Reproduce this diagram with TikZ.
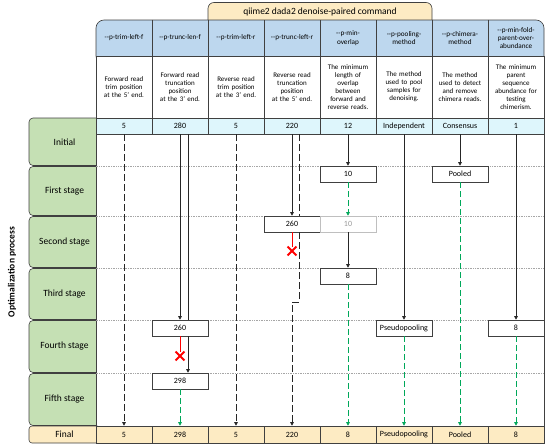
\documentclass[tikz,border=0pt]{standalone}
\usepackage{fontspec}
\setmainfont{Carlito}
\usetikzlibrary{shapes.misc,arrows.meta,positioning}

\definecolor{hdrblue}{RGB}{189,215,238}
\definecolor{valcyan}{RGB}{222,246,252}
\definecolor{stagegreen}{RGB}{197,224,180}
\definecolor{finbeige}{RGB}{253,235,195}
\definecolor{arrgreen}{RGB}{0,168,90}

\begin{document}
\begin{tikzpicture}[
    x=1pt, y=-1pt,
    every node/.style={inner sep=0pt},
    cellline/.style={draw=black!75, line width=0.6pt},
    tabbox/.style={cellline, fill=finbeige, rounded corners=6pt, minimum width=224pt, minimum height=28pt},
    hdrbg/.style={cellline, fill=hdrblue, rounded corners=8pt, minimum width=448pt, minimum height=44pt},
    hdr/.style={font=\fontsize{7.2}{8.4}\selectfont, align=center, text width=54pt, inner xsep=1pt, minimum height=36pt},
    cell/.style={cellline, minimum width=56pt},
    desc/.style={cell, fill=white, font=\fontsize{7}{8.1}\selectfont, align=center, text width=54pt, inner xsep=1pt, minimum height=62pt},
    val/.style={cell, fill=valcyan, minimum height=16pt, font=\fontsize{8}{9}\selectfont},
    fin/.style={cell, fill=finbeige, minimum height=17pt, font=\fontsize{8}{9}\selectfont},
    stagebox/.style={cellline, fill=stagegreen, rounded corners=4pt, minimum width=71pt, font=\fontsize{9.5}{11}\selectfont},
    tablebody/.style={cellline, fill=white, minimum width=448pt, minimum height=292pt},
    rowline/.style={draw=black!35, densely dotted, line width=0.7pt},
    stepval/.style={cell, fill=white, minimum height=16pt, font=\fontsize{8}{9}\selectfont},
    oldval/.style={stepval, draw=black!25, text=black!40},
    arr/.style={-{Triangle[length=3.5pt,width=3.5pt]}, line width=0.6pt, draw=black!85},
    plainline/.style={line width=0.6pt, draw=black!85},
    dasharr/.style={arr, dash pattern=on 7pt off 3pt},
    greenarr/.style={arr, draw=arrgreen, dash pattern=on 6pt off 3pt},
    redline/.style={draw=red, line width=0.7pt},
    xmark/.style={cross out, draw=red, line width=1.8pt, minimum size=7pt}
]
\useasboundingbox (0,0) rectangle (550,447);

% Command tab
\node[tabbox] (tab) at (320,16.5) {};
\node[font=\fontsize{9.5}{11}\selectfont] (tabtext) at (320,11.5) {qiime2 dada2 denoise-paired command};

% Parameter names
\node[hdrbg] (hdr) at (320,42) {};
\node[hdr] (h1) at (124,38) {-{}-p-trim-left-f};
\node[hdr] (h2) at (180,38) {-{}-p-trunc-len-f};
\node[hdr] (h3) at (236,38) {-{}-p-trim-left-r};
\node[hdr] (h4) at (292,38) {-{}-p-trunc-left-r};
\node[hdr] (h5) at (348,38) {-{}-p-min-\\overlap};
\node[hdr] (h6) at (404,38) {-{}-p-pooling-\\method};
\node[hdr] (h7) at (460,38) {-{}-p-chimera-\\method};
\node[hdr] (h8) at (516,38) {-{}-p-min-fold-\\parent-over-\\abundance};
\draw[cellline] (h1.north east) -- (h1.south east) (h2.north east) -- (h2.south east)
    (h3.north east) -- (h3.south east) (h4.north east) -- (h4.south east)
    (h5.north east) -- (h5.south east) (h6.north east) -- (h6.south east)
    (h7.north east) -- (h7.south east);

% Descriptions
\node[desc] (d1) at (124,87) {Forward read\\trim position\\at the 5' end.};
\node[desc] (d2) at (180,87) {Forward read\\truncation\\position\\at the 3' end.};
\node[desc] (d3) at (236,87) {Reverse read\\trim position\\at the 3' end.};
\node[desc] (d4) at (292,87) {Reverse read\\truncation\\position\\at the 5' end.};
\node[desc] (d5) at (348,87) {The minimum\\length of\\overlap\\between\\forward and\\reverse reads.};
\node[desc] (d6) at (404,87) {The method\\used to pool\\samples for\\denoising.};
\node[desc] (d7) at (460,87) {The method\\used to detect\\and remove\\chimera reads.};
\node[desc] (d8) at (516,87) {The minimum\\parent\\sequence\\abundance for\\testing\\chimerism.};

% Stages
\node[rotate=90, font=\bfseries\fontsize{9.5}{11}\selectfont] (process) at (12,272) {Optimalization process};
\node[stagebox, minimum height=47.5pt] (initial) at (64.5,141.75) {Initial};
\node[stagebox, minimum height=49pt] (first) at (64.5,191) {First stage};
\node[stagebox, minimum height=51pt] (second) at (64.5,242) {Second stage};
\node[stagebox, minimum height=51pt] (third) at (64.5,294) {Third stage};
\node[stagebox, minimum height=52pt] (fourth) at (64.5,346.5) {Fourth stage};
\node[stagebox, minimum height=52pt] (fifth) at (64.5,399.5) {Fifth stage};

% Initial values
\node[val] (v1) at (124,126) {5};
\node[val] (v2) at (180,126) {280};
\node[val] (v3) at (236,126) {5};
\node[val] (v4) at (292,126) {220};
\node[val] (v5) at (348,126) {12};
\node[val] (v6) at (404,126) {Independent};
\node[val] (v7) at (460,126) {Consensus};
\node[val] (v8) at (516,126) {1};

\node[tablebody] (body) at (320,280) {};
\draw[rowline] (first.north -| body.west) -- (first.north -| body.east);
\draw[rowline] (second.north -| body.west) -- (second.north -| body.east);
\draw[rowline] (third.north -| body.west) -- (third.north -| body.east);
\draw[rowline] (fourth.north -| body.west) -- (fourth.north -| body.east);
\draw[rowline] (fifth.north -| body.west) -- (fifth.north -| body.east);

% Final values
\node[stagebox, fill=finbeige, rounded corners=3pt, minimum height=17pt] (final) at (64.5,434.5) {Final};
\node[fin] (f1) at (124,434.5) {5};
\node[fin] (f2) at (180,434.5) {298};
\node[fin] (f3) at (236,434.5) {5};
\node[fin] (f4) at (292,434.5) {220};
\node[fin] (f5) at (348,434.5) {8};
\node[fin] (f6) at (404,434.5) {Pseudopooling};
\node[fin] (f7) at (460,434.5) {Pooled};
\node[fin] (f8) at (516,434.5) {8};

% Changed values
\node[stepval] (overlap10) at (348,174) {10};
\node[stepval] (chimeraPooled) at (460,174) {Pooled};
\node[stepval] (left260) at (292,224) {260};
\node[oldval] (overlap10old) at (348,224) {10};
\node[stepval] (overlap8) at (348,276) {8};
\node[stepval] (trunc260) at (180,328) {260};
\node[stepval] (pooling) at (404,328) {Pseudopooling};
\node[stepval] (fold8) at (516,328) {8};
\node[stepval] (trunc298) at (180,381) {298};

\node[xmark] (xLeft) at (292,251) {};
\node[xmark] (xTrunc) at (180,356) {};
\coordinate (jog) at (292,302);

% Arrows
\draw[dasharr] (v1.south) -- (f1.north);
\draw[arr] (v2.south) -- (trunc260.north);
\draw[plainline] ([xshift=8pt]v2.south) -- ([xshift=8pt]trunc260.north);
\draw[arr] ([xshift=8pt]trunc260.south) -- ([xshift=8pt]trunc298.north);
\draw[redline] (trunc260.south) -- (xTrunc);
\draw[greenarr] (trunc298.south) -- (f2.north);
\draw[dasharr] (v3.south) -- (f3.north);
\draw[arr] (v4.south) -- (left260.north);
\draw[dasharr, -] ([xshift=7pt]v4.south) -- ([xshift=7pt]left260.north);
\draw[dasharr] ([xshift=7pt]left260.south) |- (jog) -- (f4.north);
\draw[redline] (left260.south) -- (xLeft);
\draw[arr] (v5.south) -- (overlap10.north);
\draw[greenarr] (overlap10.south) -- (overlap10old.north);
\draw[arr] (overlap10old.south) -- (overlap8.north);
\draw[greenarr] (overlap8.south) -- (f5.north);
\draw[arr] (v6.south) -- (pooling.north);
\draw[greenarr] (pooling.south) -- (f6.north);
\draw[arr] (v7.south) -- (chimeraPooled.north);
\draw[greenarr] (chimeraPooled.south) -- (f7.north);
\draw[arr] (v8.south) -- (fold8.north);
\draw[greenarr] (fold8.south) -- (f8.north);

\end{tikzpicture}
\end{document}
